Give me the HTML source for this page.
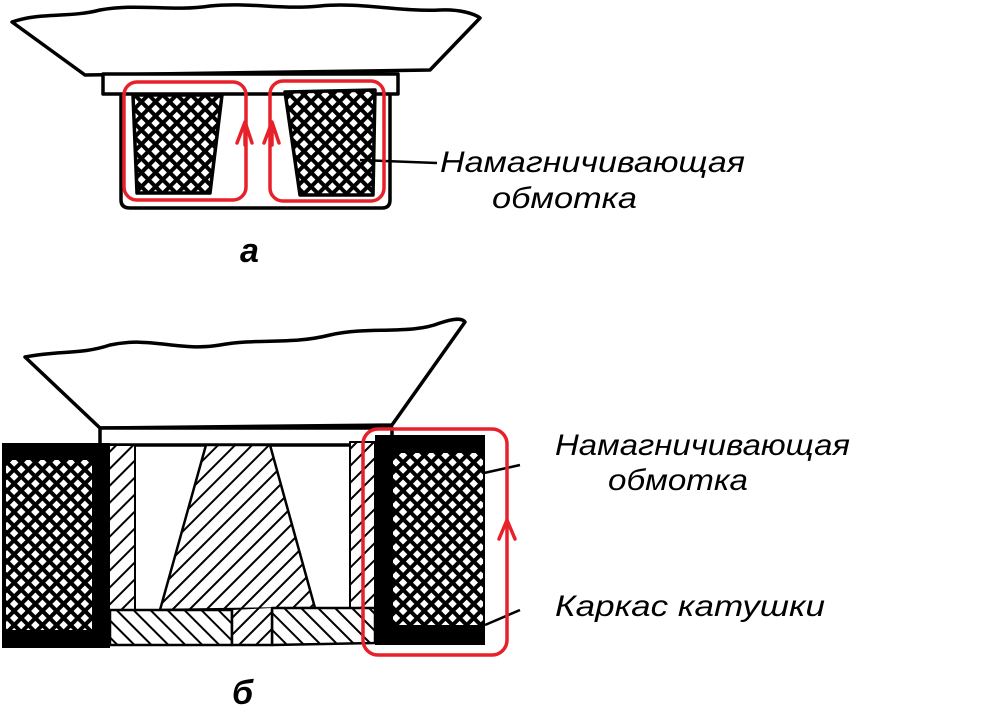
<!DOCTYPE html>
<html><head><meta charset="utf-8"><style>html,body{margin:0;padding:0;background:#fff}svg{display:block}</style></head>
<body>
<svg width="992" height="708" viewBox="0 0 992 708" xmlns="http://www.w3.org/2000/svg">
<defs>
<pattern id="cross" width="10" height="10" patternUnits="userSpaceOnUse" patternTransform="rotate(45)">
<rect width="10" height="10" fill="#fff"/>
<rect width="10" height="4" fill="#000"/><rect width="4" height="10" fill="#000"/>
</pattern>
<pattern id="hatch" width="12" height="12" patternUnits="userSpaceOnUse" patternTransform="rotate(-45)">
<rect width="12" height="12" fill="#fff"/><rect width="12" height="2" fill="#000"/>
</pattern>
<pattern id="hatch2" width="12" height="12" patternUnits="userSpaceOnUse" patternTransform="rotate(45)">
<rect width="12" height="12" fill="#fff"/><rect width="12" height="2" fill="#000"/>
</pattern>
</defs>
<g stroke="#000" stroke-width="3.5" fill="none" stroke-linejoin="round">
<path d="M12,22 C40,12 70,18 100,10 C140,3 170,12 210,6 C250,2 280,10 320,6 C360,2 400,12 440,10 C460,9 475,14 480,18 L430,70 L85,75 Z" fill="#fff"/>
<rect x="103" y="74" width="295" height="20" fill="#fff"/>
<path d="M121,93 L121,200 Q121,208 130,208 L382,208 Q390,208 390,200 L390,93" />
<polygon points="133,95 222,95 210,193 137,193" fill="url(#cross)"/>
<polygon points="285,92 375,90 373,195 300,195" fill="url(#cross)"/>
<path d="M360,160 L437,163" stroke-width="2.5"/>
<path d="M25,357 C60,350 80,355 110,345 C150,336 180,352 220,345 C260,338 290,345 330,335 C370,326 410,335 440,323 C455,318 462,318 465,322 L392,425 L100,428 Z" fill="#fff"/>
<rect x="100" y="428" width="292" height="17" fill="#fff"/>
<rect x="109" y="445" width="26" height="165" fill="url(#hatch)" stroke-width="2"/>
<rect x="350" y="442" width="25" height="168" fill="url(#hatch)" stroke-width="2"/>
<polygon points="206,445 270,445 315,608 160,610" fill="url(#hatch)" stroke-width="2.5"/>
<path d="M110,610 L232,610 L232,645 L110,645 Z" fill="url(#hatch2)" stroke-width="2.5"/>
<path d="M272,608 L375,608 L375,643 L272,645 Z" fill="url(#hatch2)" stroke-width="2.5"/>
<path d="M232,610 L232,645 L272,645 L272,608" fill="url(#hatch)" stroke-width="2.5"/>
<path d="M475,475 L520,465 M485,625 L520,610" stroke-width="2.5"/>
</g>
<rect x="2" y="443" width="108" height="205" fill="#000"/>
<rect x="6" y="460" width="86" height="170" fill="url(#cross)"/>
<rect x="375" y="435" width="110" height="210" fill="#000"/>
<rect x="393" y="453" width="90" height="172" fill="url(#cross)"/>
<g stroke="#e8202a" stroke-width="3.5" fill="none" stroke-linecap="round" stroke-linejoin="round">
<rect x="124" y="82" width="122" height="118" rx="13"/>
<rect x="270" y="81" width="114" height="120" rx="13"/>
<path d="M245,145 L245,122 M237,143 L245,122 L252,143"/>
<path d="M272,145 L272,122 M264,143 L272,122 L279,143"/>
<rect x="363" y="429" width="144" height="226" rx="15"/>
<path d="M499,539 L507,520 L515,539"/>
</g>
<g font-family="Liberation Sans, sans-serif" font-style="italic" font-size="30" fill="#000">
<text x="440" y="172" textLength="305" lengthAdjust="spacingAndGlyphs">Намагничивающая</text>
<text x="492" y="208" textLength="145" lengthAdjust="spacingAndGlyphs">обмотка</text>
<text x="555" y="455" textLength="295" lengthAdjust="spacingAndGlyphs">Намагничивающая</text>
<text x="608" y="490" textLength="140" lengthAdjust="spacingAndGlyphs">обмотка</text>
<text x="555" y="616" textLength="270" lengthAdjust="spacingAndGlyphs">Каркас катушки</text>
<text x="240" y="262" font-size="34" font-weight="bold">а</text>
<text x="232" y="704" font-size="34" font-weight="bold">б</text>
</g>
</svg>
</body></html>
